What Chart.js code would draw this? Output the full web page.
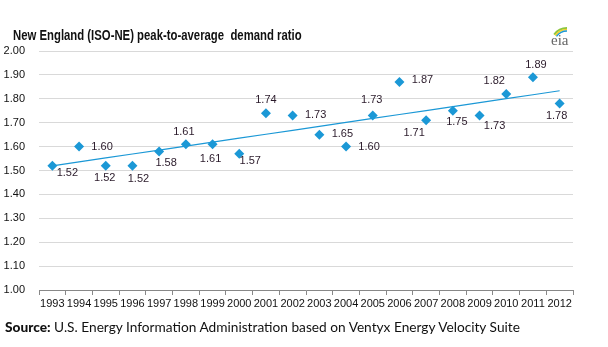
<!DOCTYPE html>
<html lang="en">
  <head>
    <meta charset="UTF-8" />
    <title>New England peak-to-average demand ratio</title>
    <style>
      html, body { margin: 0; padding: 0; background: #fff; }
      .wrap { position: relative; width: 608px; height: 347px; }
      .title {
        position: absolute; left: 13px; top: 27px;
        font: bold 14px "Liberation Sans", Arial, sans-serif;
        color: #111;
        transform: scaleX(0.81);
        transform-origin: left top;
        white-space: nowrap;
      }
      .source {
        position: absolute; left: 5px; top: 318px;
        font: 13.7px Lato, "Noto Sans", sans-serif;
        color: #111;
        white-space: nowrap;
      }
      .source b { font-weight: 900; }
      canvas { position: absolute; left: 0; top: 0; }
    </style>
  </head>
  <body>
    <div class="wrap">
      <canvas id="chart" width="608" height="347"></canvas>
      <div class="title">New England (ISO-NE) peak-to-average&nbsp; demand ratio</div>
      <div class="source"><b>Source:</b> U.S. Energy Information Administration based on Ventyx Energy Velocity Suite</div>
    </div>

    <script src="https://cdn.jsdelivr.net/npm/chart.js"></script>

    <script>
      const years = ["1993", "1994", "1995", "1996", "1997", "1998", "1999", "2000", "2001", "2002",
                     "2003", "2004", "2005", "2006", "2007", "2008", "2009", "2010", "2011", "2012"];
      const ratio = [1.52, 1.60, 1.52, 1.52, 1.58, 1.61, 1.61, 1.57, 1.74, 1.73,
                     1.65, 1.60, 1.73, 1.87, 1.71, 1.75, 1.73, 1.82, 1.89, 1.78];
      const yTicks = [1.0, 1.1, 1.2, 1.3, 1.4, 1.5, 1.6, 1.7, 1.8, 1.9, 2.0];

      // least-squares trend through the yearly ratios
      function linearFit(ys) {
        const n = ys.length;
        const mx = (n - 1) / 2;
        const my = ys.reduce((a, b) => a + b, 0) / n;
        let sxy = 0, sxx = 0;
        ys.forEach((y, i) => { sxy += (i - mx) * (y - my); sxx += (i - mx) * (i - mx); });
        const slope = sxy / sxx;
        return ys.map((_, i) => my + slope * (i - mx));
      }
      const trend = linearFit(ratio);

      // where each value label sits relative to its marker
      const labelOffsets = [
        [15, 7], [23, 0], [-1, 12], [6, 13], [7, 12], [-2, -12], [-2, 15], [11, 7], [0, -13], [23, -1],
        [23, -1], [23, 0], [-1, -16], [23, -2], [-12, 13], [4, 11], [15, 10], [-12, -13], [3, -12], [-3, 12]
      ];

      const BLUE = "#1b98d6";

      const valueLabels = {
        id: "valueLabels",
        afterDatasetsDraw(chart) {
          const ctx = chart.ctx;
          const meta = chart.getDatasetMeta(1);
          ctx.save();
          ctx.font = '11px "Liberation Sans", Arial, sans-serif';
          ctx.fillStyle = "#2a1a2a";
          ctx.textAlign = "center";
          ctx.textBaseline = "middle";
          meta.data.forEach((pt, i) => {
            const off = labelOffsets[i];
            ctx.fillText(ratio[i].toFixed(2), pt.x + off[0], pt.y + off[1]);
          });
          ctx.restore();
        },
      };

      // small eia mark in the top right corner
      const logo = {
        id: "logo",
        afterDraw(chart) {
          const ctx = chart.ctx;
          ctx.save();
          ctx.font = '15px "Liberation Serif", "DejaVu Serif", serif';
          ctx.fillStyle = "#666";
          ctx.textBaseline = "alphabetic";
          ctx.fillText("eia", 551, 45);
          const arcs = [["#8cc63f", 1.8, 16], ["#f2cf2c", 1.4, 14.5], ["#1b98d6", 1.4, 13]];
          arcs.forEach((a) => {
            ctx.beginPath();
            ctx.strokeStyle = a[0];
            ctx.lineWidth = a[1];
            ctx.arc(567, 44, a[2], Math.PI * 1.2, Math.PI * 1.5);
            ctx.stroke();
          });
          ctx.restore();
        },
      };

      const ctx1 = document.getElementById("chart");

      const chart1 = new Chart(ctx1, {
        type: "line",
        data: {
          labels: years,
          datasets: [
            {
              label: "Trend",
              data: trend,
              borderColor: BLUE,
              borderWidth: 1.2,
              pointRadius: 0,
              fill: false,
              order: 2,
            },
            {
              label: "Peak-to-average ratio",
              data: ratio,
              showLine: false,
              pointStyle: "rectRot",
              pointRadius: 5,
              pointBackgroundColor: BLUE,
              pointBorderColor: BLUE,
              pointBorderWidth: 0,
              order: 1,
            },
          ],
        },
        options: {
          responsive: false,
          animation: false,
          layout: { padding: { left: 0, right: 35, top: 51, bottom: 0 } },
          plugins: {
            legend: { display: false },
            tooltip: { enabled: false },
          },
          scales: {
            x: {
              offset: true,
              grid: {
                display: true,
                offset: true,
                drawOnChartArea: false,
                drawTicks: true,
                tickLength: 5,
                color: "#888",
              },
              border: { display: true, color: "#888", width: 1 },
              ticks: {
                autoSkip: false,
                maxRotation: 0,
                minRotation: 0,
                padding: 2,
                color: "#111",
                font: { family: '"Liberation Sans", Arial, sans-serif', size: 11 },
              },
              afterFit(scale) { scale.height = 57; },
            },
            y: {
              min: 1,
              max: 2,
              afterBuildTicks(scale) { scale.ticks = yTicks.map((v) => ({ value: v })); },
              grid: { color: "#d9d9d9", drawTicks: false },
              border: { display: false },
              ticks: {
                padding: 14,
                color: "#111",
                font: { family: '"Liberation Sans", Arial, sans-serif', size: 11 },
                callback: (v) => v.toFixed(2),
              },
              afterFit(scale) { scale.width = 39; },
            },
          },
        },
        plugins: [valueLabels, logo],
      });
    </script>
  </body>
</html>
